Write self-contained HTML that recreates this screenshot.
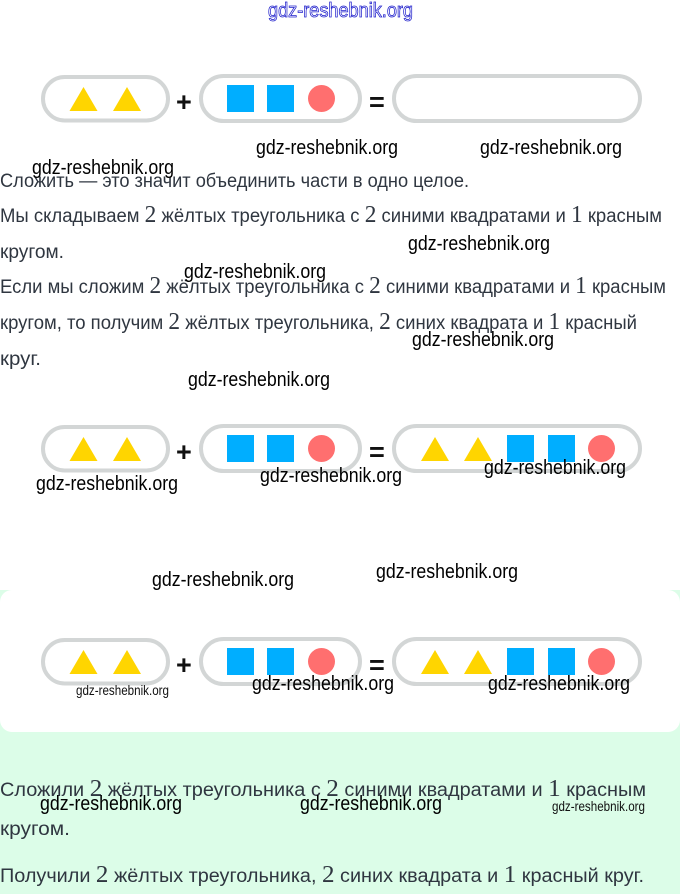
<!DOCTYPE html>
<html><head><meta charset="utf-8"><style>
html,body{margin:0;padding:0;background:#fff}
svg{display:block}
.t{font-family:"Liberation Sans",sans-serif;font-size:19px;fill:#2f3640}
.t tspan{font-family:"Liberation Serif",serif;font-size:24px}
.w{font-family:"Liberation Sans",sans-serif;font-size:20px;fill:#000}
.s{font-family:"Liberation Sans",sans-serif;font-size:14px;fill:#111}
.op{font-family:"Liberation Sans",sans-serif;font-size:27px;font-weight:bold;fill:#111}
</style></head><body>
<svg width="680" height="894" viewBox="0 0 680 894" xmlns="http://www.w3.org/2000/svg">
<defs>
<g id="tri"><polygon points="14,0 28,24 0,24" fill="#ffd500"/></g>
<g id="sq"><rect width="27" height="27" fill="#00aeff"/></g>
<g id="ci"><ellipse cx="13.500" cy="13.500" rx="13.500" ry="13.500" fill="#ff6f6f"/></g>
<g id="base">
<rect x="43" y="77" width="125" height="43.500" rx="21.700" fill="#fff" stroke="#d3d6d6" stroke-width="4"/>
<rect x="201" y="76" width="159" height="45" rx="22.500" fill="#fff" stroke="#d3d6d6" stroke-width="4"/>
<rect x="394" y="76" width="246" height="45" rx="22.500" fill="#fff" stroke="#d3d6d6" stroke-width="4"/>
<use href="#tri" x="69.500" y="87"/><use href="#tri" x="113" y="87"/>
<use href="#sq" x="227" y="85"/><use href="#sq" x="267" y="85"/><use href="#ci" x="308" y="85"/>
<text class="op" x="176" y="111">+</text><text class="op" x="369" y="111">=</text>
</g>
<g id="res">
<use href="#tri" x="421" y="87"/><use href="#tri" x="464" y="87"/>
<use href="#sq" x="507" y="85"/><use href="#sq" x="548" y="85"/><use href="#ci" x="588" y="85"/>
</g>
</defs>
<rect x="0" y="590" width="680" height="304" fill="#dcfde8"/>
<rect x="0" y="590" width="680" height="142" rx="12" fill="#fff"/>
<text x="268" y="17" font-family="Liberation Sans,sans-serif" font-size="20" fill="#fff" stroke="#2222cc" stroke-width="0.8" textLength="145" lengthAdjust="spacingAndGlyphs">gdz-reshebnik.org</text>
<use href="#base"/>
<use href="#base" y="350"/><use href="#res" y="350"/>
<use href="#base" y="563"/><use href="#res" y="563"/>
<text class="t" x="0" y="187" textLength="469" lengthAdjust="spacingAndGlyphs">Сложить — это значит объединить части в одно целое.</text>
<text class="t" x="0" y="222" textLength="662" lengthAdjust="spacingAndGlyphs">Мы складываем <tspan>2</tspan> жёлтых треугольника с <tspan>2</tspan> синими квадратами и <tspan>1</tspan> красным</text>
<text class="t" x="0" y="258" textLength="64" lengthAdjust="spacingAndGlyphs">кругом.</text>
<text class="t" x="0" y="293" textLength="666" lengthAdjust="spacingAndGlyphs">Если мы сложим <tspan>2</tspan> жёлтых треугольника с <tspan>2</tspan> синими квадратами и <tspan>1</tspan> красным</text>
<text class="t" x="0" y="329" textLength="637" lengthAdjust="spacingAndGlyphs">кругом, то получим <tspan>2</tspan> жёлтых треугольника, <tspan>2</tspan> синих квадрата и <tspan>1</tspan> красный</text>
<text class="t" x="0" y="365" textLength="41" lengthAdjust="spacingAndGlyphs">круг.</text>
<text class="t" x="0" y="796" textLength="646" lengthAdjust="spacingAndGlyphs">Сложили <tspan>2</tspan> жёлтых треугольника с <tspan>2</tspan> синими квадратами и <tspan>1</tspan> красным</text>
<text class="t" x="0" y="835" textLength="70" lengthAdjust="spacingAndGlyphs">кругом.</text>
<text class="t" x="0" y="882" textLength="644" lengthAdjust="spacingAndGlyphs">Получили <tspan>2</tspan> жёлтых треугольника, <tspan>2</tspan> синих квадрата и <tspan>1</tspan> красный круг.</text>
<g>
<text class="w" x="256" y="154" textLength="142" lengthAdjust="spacingAndGlyphs">gdz-reshebnik.org</text>
<text class="w" x="480" y="154" textLength="142" lengthAdjust="spacingAndGlyphs">gdz-reshebnik.org</text>
<text class="w" x="32" y="174" textLength="142" lengthAdjust="spacingAndGlyphs">gdz-reshebnik.org</text>
<text class="w" x="408" y="250" textLength="142" lengthAdjust="spacingAndGlyphs">gdz-reshebnik.org</text>
<text class="w" x="184" y="278" textLength="142" lengthAdjust="spacingAndGlyphs">gdz-reshebnik.org</text>
<text class="w" x="412" y="346" textLength="142" lengthAdjust="spacingAndGlyphs">gdz-reshebnik.org</text>
<text class="w" x="188" y="386" textLength="142" lengthAdjust="spacingAndGlyphs">gdz-reshebnik.org</text>
<text class="w" x="36" y="490" textLength="142" lengthAdjust="spacingAndGlyphs">gdz-reshebnik.org</text>
<text class="w" x="260" y="482" textLength="142" lengthAdjust="spacingAndGlyphs">gdz-reshebnik.org</text>
<text class="w" x="484" y="474" textLength="142" lengthAdjust="spacingAndGlyphs">gdz-reshebnik.org</text>
<text class="w" x="152" y="586" textLength="142" lengthAdjust="spacingAndGlyphs">gdz-reshebnik.org</text>
<text class="w" x="376" y="578" textLength="142" lengthAdjust="spacingAndGlyphs">gdz-reshebnik.org</text>
<text class="s" x="76" y="695" textLength="93" lengthAdjust="spacingAndGlyphs">gdz-reshebnik.org</text>
<text class="w" x="252" y="690" textLength="142" lengthAdjust="spacingAndGlyphs">gdz-reshebnik.org</text>
<text class="w" x="488" y="690" textLength="142" lengthAdjust="spacingAndGlyphs">gdz-reshebnik.org</text>
<text class="w" x="40" y="810" textLength="142" lengthAdjust="spacingAndGlyphs">gdz-reshebnik.org</text>
<text class="w" x="300" y="810" textLength="142" lengthAdjust="spacingAndGlyphs">gdz-reshebnik.org</text>
<text class="s" x="552" y="811" textLength="93" lengthAdjust="spacingAndGlyphs">gdz-reshebnik.org</text>
</g>
</svg>
</body></html>
